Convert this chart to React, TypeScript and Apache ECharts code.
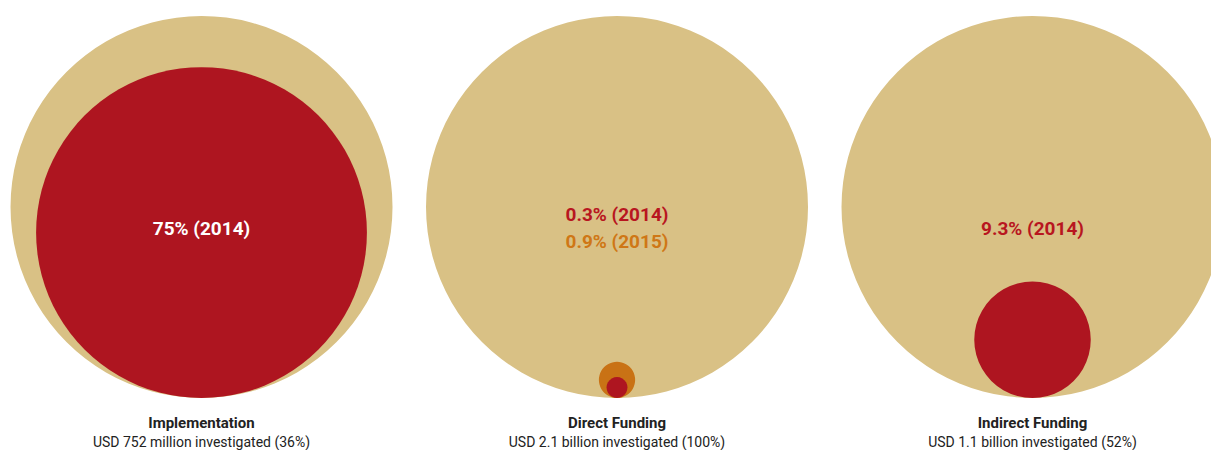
import React, { useEffect, useRef } from "react";
import * as echarts from "echarts";

const categories = ["Implementation", "Direct Funding", "Indirect Funding"];
const investigated = [
  "USD 752 million investigated (36%)",
  "USD 2.1 billion investigated (100%)",
  "USD 1.1 billion investigated (52%)",
];
const totalShare = [100, 100, 100];
const share2014 = [75, 0.3, 9.3];
const share2015: (number | null)[] = [null, 0.9, null];

const TAN = "#D9C185";
const RED = "#AE1520";
const ORANGE = "#C97215";
const FONT = "Roboto, 'DejaVu Sans', sans-serif";

const radiusOf = (share: number) => Math.sqrt(share / 100);

function circleItem(fill: string) {
  return (params: any, api: any) => {
    const cat = api.value(0);
    const share = api.value(1);
    const r = radiusOf(share);
    const c = api.coord([cat, r]);
    const rp = api.size([0, r])[1];
    return {
      type: "circle",
      shape: { cx: c[0], cy: c[1], r: rp },
      style: { fill },
    };
  };
}

export default function App() {
  const ref = useRef<HTMLDivElement>(null);
  useEffect(() => {
    if (!ref.current) return;
    const chart = echarts.init(ref.current, undefined, { renderer: "svg" });
    const labelData = categories.map((_, i) => [i, share2014[i], share2015[i] ?? 0]);
    chart.setOption({
      animation: false,
      backgroundColor: "#ffffff",
      grid: { left: 0, right: 0, top: 16, bottom: 52 },
      xAxis: { type: "value", min: -0.485, max: 2.4296, show: false },
      yAxis: { type: "value", min: 0, max: 2, show: false },
      series: [
        {
          name: "Total",
          type: "custom",
          renderItem: circleItem(TAN),
          data: totalShare.map((v, i) => [i, v]),
          clip: false,
        },
        {
          name: "2015",
          type: "custom",
          renderItem: circleItem(ORANGE),
          data: share2015.map((v, i) => (v == null ? null : [i, v])).filter((d) => d),
          clip: false,
        },
        {
          name: "2014",
          type: "custom",
          renderItem: circleItem(RED),
          data: share2014.map((v, i) => [i, v]),
          clip: false,
        },
        {
          name: "Labels",
          type: "custom",
          clip: false,
          data: labelData,
          renderItem: (params: any, api: any) => {
            const idx = params.dataIndex;
            const cat = api.value(0);
            const s14 = api.value(1);
            const s15 = api.value(2);
            const big = api.coord([cat, 1]);
            const base0 = api.coord([cat, 0]);
            const ly = big[1] + 21;
            const r14 = radiusOf(s14);
            const c14 = api.coord([cat, r14]);
            const rp14 = api.size([0, r14])[1];
            const inside = Math.abs(ly - c14[1]) < rp14 - 12;
            const base = { fontFamily: FONT, fontSize: 19, fontWeight: "bold", align: "center", verticalAlign: "middle" };
            const children: any[] = [];
            if (s15) {
              children.push({
                type: "text",
                style: { ...base, text: `${s14}% (2014)`, x: big[0], y: ly - 13.5, fill: "#B8161F" },
              });
              children.push({
                type: "text",
                style: { ...base, text: `${s15}% (2015)`, x: big[0], y: ly + 13.5, fill: "#CF7716" },
              });
            } else {
              children.push({
                type: "text",
                style: { ...base, text: `${s14}% (2014)`, x: big[0], y: ly, fill: inside ? "#ffffff" : "#B8161F" },
              });
            }
            children.push({
              type: "text",
              style: {
                text: categories[idx],
                x: base0[0],
                y: base0[1] + 25,
                fontFamily: FONT,
                fontSize: 15,
                fontWeight: "bold",
                fill: "#222222",
                align: "center",
                verticalAlign: "middle",
              },
            });
            children.push({
              type: "text",
              style: {
                text: investigated[idx],
                x: base0[0],
                y: base0[1] + 44,
                fontFamily: FONT,
                fontSize: 14,
                fill: "#222222",
                align: "center",
                verticalAlign: "middle",
              },
            });
            return { type: "group", children };
          },
        },
      ],
    });
    return () => chart.dispose();
  }, []);
  return (
    <div
      ref={ref}
      style={{ position: "fixed", left: 0, top: 0, width: "1211px", height: "450px" }}
    />
  );
}
